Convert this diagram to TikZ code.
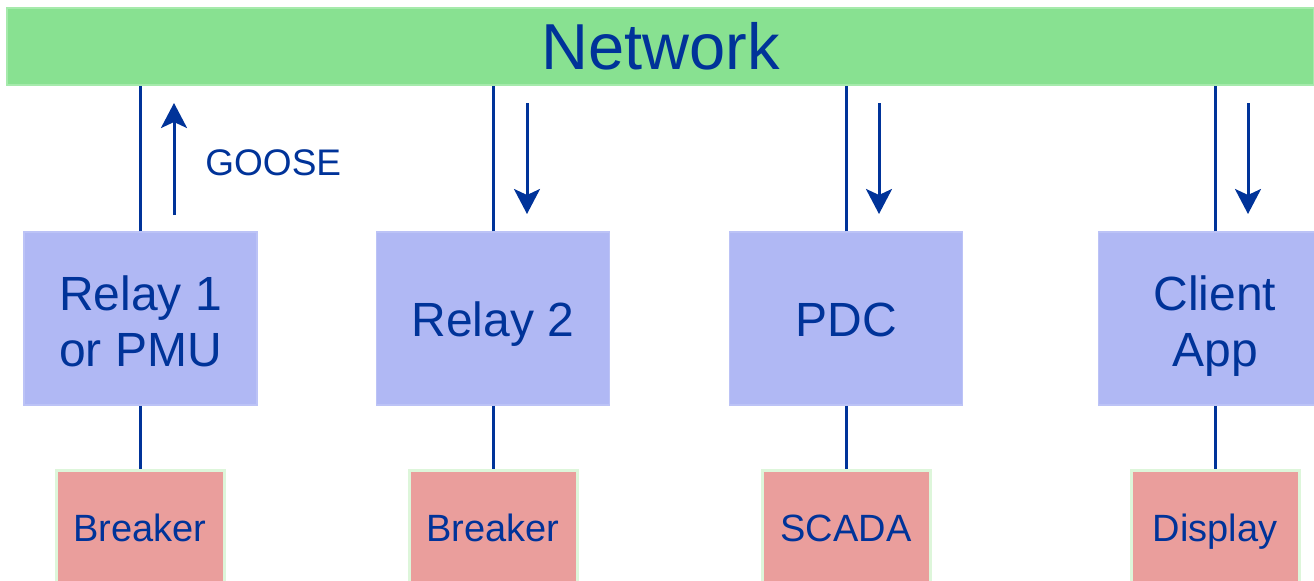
\documentclass[tikz,border=0pt]{standalone}
\usepackage{fontspec}
\setmainfont{Liberation Sans}
\usetikzlibrary{arrows.meta}
\definecolor{netgreen}{HTML}{88E191}
\definecolor{netedge}{HTML}{A6EAAC}
\definecolor{boxblue}{HTML}{B0B8F4}
\definecolor{boxedge}{HTML}{BCC3F6}
\definecolor{boxpink}{HTML}{EA9E9C}
\definecolor{pinkedge}{HTML}{DDF6DA}
\definecolor{ink}{HTML}{003399}
\tikzset{
  netbar/.style={draw=netedge, line width=1pt, fill=netgreen, inner sep=0pt,
    text height=23.3pt, text depth=0pt,
    minimum width=653.5pt, minimum height=38.5pt, text=ink, font=\fontsize{32.5}{38}\selectfont},
  devbox/.style={draw=boxedge, line width=0.75pt, fill=boxblue, inner sep=0pt,
    minimum width=116.5pt, minimum height=86.5pt, text=ink, align=center,
    font=\fontsize{24}{28}\selectfont},
  onecap/.style={text height=17.6pt, text depth=0pt},
  twocap/.style={text height=47.7pt, text depth=0pt},
  endbox/.style={draw=pinkedge, line width=1.5pt, fill=boxpink, inner sep=0pt,
    text height=13.6pt, text depth=0pt,
    minimum width=84pt, minimum height=58pt, text=ink, font=\fontsize{19}{22}\selectfont},
  link/.style={draw=ink, line width=1.5pt},
  flow/.style={draw=ink, line width=1.5pt, -{Stealth[length=12.5pt, width=13pt, inset=3pt]}},
  lbl/.style={text=ink, font=\fontsize{18.5}{22}\selectfont, inner sep=0pt, anchor=west}
}
\begin{document}
\begin{tikzpicture}[x=0.5pt, y=-0.5pt]
\useasboundingbox (0,0) rectangle (1314,580);
\clip (0,0) rectangle (1314,580);
\fill[white] (0,0) rectangle (1314,580);
% network bar
\node[netbar] (net) at (660.5,46.5) {Network};
% devices
\node[devbox, twocap] (r1) at (140.5,318.5) {Relay 1\\or PMU};
\node[devbox, onecap] (r2) at (493,318.5) {Relay 2};
\node[devbox, onecap] (pdc) at (846,318.5) {PDC};
\node[devbox, twocap] (cli) at (1215,318.5) {Client\\App};
% end points
\node[endbox] (b1) at (140,528) {Breaker};
\node[endbox] (b2) at (493,528) {Breaker};
\node[endbox] (sc) at (846,528) {SCADA};
\node[endbox] (dp) at (1215,528) {Display};
% links to network
\draw[link] (r1.north) -- (r1.north |- net.south);
\draw[link] (r2.north) -- (r2.north |- net.south);
\draw[link] (pdc.north) -- (pdc.north |- net.south);
\draw[link] (cli.north) -- (cli.north |- net.south);
% links to end points
\draw[link] (r1.south) -- (r1.south |- b1.north);
\draw[link] (r2.south) -- (b2.north);
\draw[link] (pdc.south) -- (sc.north);
\draw[link] (cli.south) -- (dp.north);
% message flows
\coordinate (g0) at (174,215);
\coordinate (g1) at (174,103);
\draw[flow] (g0) -- (g1);
\node[lbl] (goose) at (205,163) {GOOSE};
\coordinate (m20) at (527,103);
\coordinate (m21) at (527,214);
\draw[flow] (m20) -- (m21);
\coordinate (m30) at (879,103);
\coordinate (m31) at (879,214);
\draw[flow] (m30) -- (m31);
\coordinate (m40) at (1248,103);
\coordinate (m41) at (1248,214);
\draw[flow] (m40) -- (m41);
\end{tikzpicture}
\end{document}
